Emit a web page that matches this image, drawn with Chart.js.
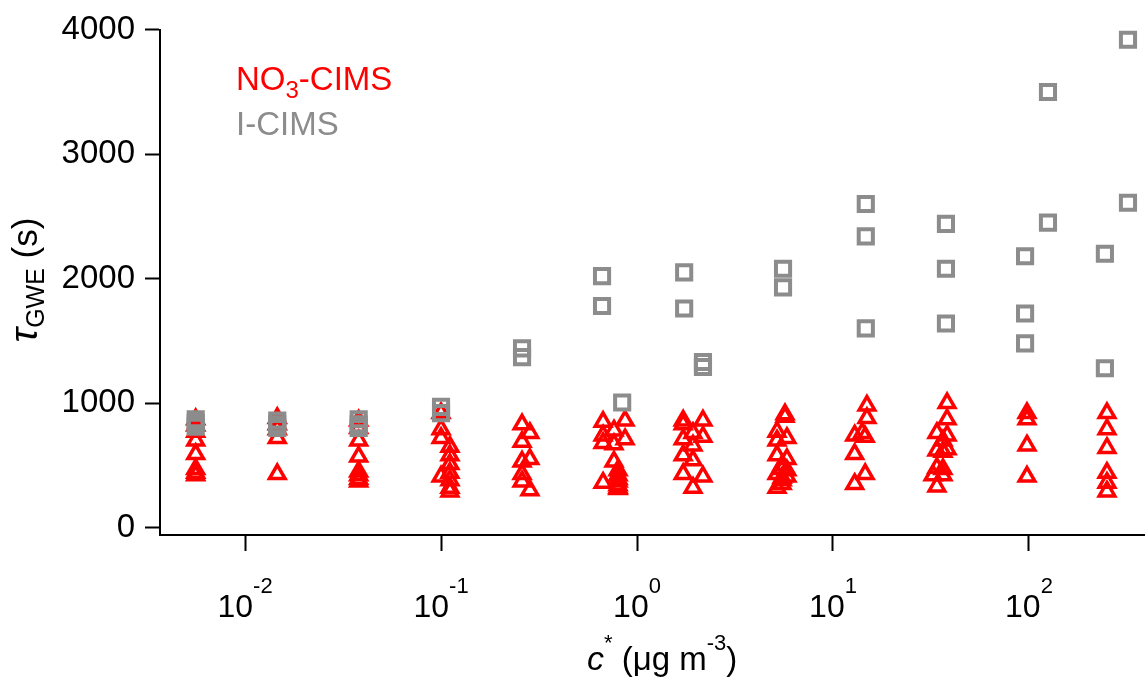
<!DOCTYPE html>
<html>
<head>
<meta charset="utf-8">
<script src="https://cdn.jsdelivr.net/npm/chart.js@4.4.1/dist/chart.umd.min.js"></script>
<style>
  html, body { margin: 0; padding: 0; background: #fff; }
  #wrap { width: 1145px; height: 679px; }
</style>
</head>
<body>
<div id="wrap"><canvas id="chart" width="1145" height="679"></canvas></div>
<script>
// NO3-CIMS (triangles): c* (µg m-3) and tau_GWE (s), one line per column of markers
var NO3_CSTAR = [
  0.0056, 0.0056, 0.0056, 0.0056, 0.0056, 0.0056, 0.0056, 0.0056,
  0.0146, 0.0146, 0.0146, 0.0146, 0.0146,
  0.038, 0.038, 0.038, 0.038, 0.038, 0.038, 0.038, 0.038,
  0.1, 0.1, 0.1, 0.1,
  0.111, 0.111, 0.111, 0.111, 0.111, 0.111, 0.111,
  0.259, 0.259, 0.259, 0.259, 0.259,
  0.284, 0.284, 0.284,
  0.671, 0.671, 0.671, 0.671,
  0.869, 0.869,
  0.763, 0.763, 0.763,
  0.80, 0.80, 0.80, 0.80, 0.80, 0.80, 0.80,
  1.72, 1.72, 1.72, 1.72, 1.72,
  2.17, 2.17, 2.17,
  1.93, 1.93, 1.93, 1.93,
  5.69, 5.69,
  5.18, 5.18, 5.18, 5.18, 5.18,
  5.82, 5.82, 5.82, 5.82,
  5.5, 5.5, 5.5, 5.5, 5.5,
  14.9, 14.9,
  12.9, 12.9, 12.9,
  14.1,
  14.6, 14.6,
  38.2, 38.2, 38.2, 38.2,
  33.9, 33.9, 33.9, 33.9,
  36.4, 36.4, 36.4, 36.4,
  32.4,
  97.7, 97.7, 97.7, 97.7,
  250, 250, 250, 250, 250, 250
];
var NO3_TAU = [
  870, 820, 770, 700, 590, 470, 440, 420,
  880, 830, 790, 720, 430,
  860, 800, 700, 570, 450, 420, 390, 370,
  920, 790, 720, 410,
  650, 580, 510, 440, 380, 320, 290,
  830, 690, 530, 430, 370,
  760, 550, 300,
  850, 740, 680, 360,
  860, 710,
  780, 670, 530,
  460, 420, 390, 370, 340, 320, 310,
  860, 830, 710, 580, 430,
  860, 730, 410,
  760, 660, 540, 320,
  910, 890,
  770, 700, 580, 430, 320,
  720, 550, 460, 410,
  500, 470, 400, 380, 350,
  980, 880,
  740, 590, 350,
  760,
  730, 430,
  1000, 870, 740, 630,
  760, 620, 480, 330,
  700, 610, 470, 420,
  420,
  920, 870, 660, 410,
  920, 790, 640, 440, 360, 290
];

// I-CIMS (squares)
var ICIMS_CSTAR = [
  0.0056, 0.0056, 0.0056,
  0.0146, 0.0146, 0.0146,
  0.038, 0.038, 0.038,
  0.1, 0.1,
  0.259, 0.259,
  0.663, 0.663, 0.84,
  1.74, 1.74, 2.17, 2.17,
  5.56, 5.56,
  14.7, 14.7, 14.7,
  37.7, 37.7, 37.7,
  95.5, 95.5, 95.5, 125, 125,
  244, 244, 320, 320
];
var ICIMS_TAU = [
  870, 840, 810,
  860, 830, 800,
  870, 830, 800,
  970, 920,
  1440, 1370,
  2020, 1780, 1005,
  2050, 1760, 1330, 1290,
  2080, 1930,
  2600, 2340, 1600,
  2440, 2080, 1640,
  2180, 1720, 1480, 3500, 2450,
  2200, 1280, 3920, 2610
];

var Y_TICKS = [0, 1000, 2000, 3000, 4000];
var X_TICK_EXP = [-2, -1, 0, 1, 2];

var RED = '#ff0000';
var GRAY = '#8c8c8c';
var FONT = '"Liberation Sans", Arial, Helvetica, sans-serif';

function toPoints(xs, ys) {
  return xs.map(function(x, i) { return { x: x, y: ys[i] }; });
}

// draws a list of text pieces side by side (for sub/superscripts)
function runsWidth(ctx, runs) {
  var w = 0;
  runs.forEach(function(r) {
    ctx.font = (r.italic ? 'italic ' : '') + r.size + 'px ' + FONT;
    w += ctx.measureText(r.text).width;
  });
  return w;
}
function drawRuns(ctx, runs, x, y, color) {
  ctx.fillStyle = color;
  ctx.textBaseline = 'alphabetic';
  ctx.textAlign = 'left';
  runs.forEach(function(r) {
    ctx.font = (r.italic ? 'italic ' : '') + r.size + 'px ' + FONT;
    ctx.fillText(r.text, x, y + (r.dy || 0));
    x += ctx.measureText(r.text).width;
  });
}

var textPlugin = {
  id: 'texts',
  afterDraw: function(chart) {
    var ctx = chart.ctx;
    var xs = chart.scales.x;
    ctx.save();

    // x tick labels 10^n
    X_TICK_EXP.forEach(function(e) {
      var px = xs.getPixelForValue(Math.pow(10, e));
      var runs = [
        { text: '10', size: 32 },
        { text: String(e), size: 22, dy: -24 },
      ];
      var w = runsWidth(ctx, runs);
      drawRuns(ctx, runs, px - w / 2, 617, '#000');
    });

    // x title
    drawRuns(ctx, [
      { text: 'c', size: 34, italic: true },
      { text: '*', size: 22, dy: -20 },
      { text: ' (μg m', size: 33 },
      { text: '-3', size: 22, dy: -20 },
      { text: ')', size: 33 },
    ], 587, 670, '#000');

    // y title, rotated
    var yRuns = [
      { text: 'τ', size: 39, italic: true },
      { text: 'GWE', size: 25, dy: 7 },
      { text: ' (s)', size: 35 },
    ];
    ctx.save();
    ctx.translate(37, 280);
    ctx.rotate(-Math.PI / 2);
    drawRuns(ctx, yRuns, -runsWidth(ctx, yRuns) / 2, 0, '#000');
    ctx.restore();

    // legend text
    drawRuns(ctx, [
      { text: 'NO', size: 33 },
      { text: '3', size: 24, dy: 8 },
      { text: '-CIMS', size: 33 },
    ], 236, 90, RED);
    drawRuns(ctx, [{ text: 'I-CIMS', size: 33 }], 236, 135, GRAY);

    ctx.restore();
  },
};

function initChart() {
  var ctx = document.getElementById('chart');
  new Chart(ctx, {
    type: 'scatter',
    data: {
      datasets: [
        {
          label: 'I-CIMS',
          data: toPoints(ICIMS_CSTAR, ICIMS_TAU),
          pointStyle: 'rect',
          pointRadius: 10,
          borderWidth: 4,
          borderColor: GRAY,
          backgroundColor: 'rgba(0,0,0,0)',
          clip: false,
        },
        {
          label: 'NO3-CIMS',
          data: toPoints(NO3_CSTAR, NO3_TAU),
          pointStyle: 'triangle',
          pointRadius: 9,
          borderWidth: 3.5,
          borderColor: RED,
          backgroundColor: 'rgba(0,0,0,0)',
          clip: false,
        },
      ],
    },
    options: {
      responsive: false,
      animation: false,
      events: [],
      layout: { autoPadding: false, padding: { top: 27, right: 0, left: 0, bottom: 0 } },
      scales: {
        x: {
          type: 'logarithmic',
          min: Math.pow(10, -2.434),
          max: Math.pow(10, 2.592),
          afterBuildTicks: function(scale) {
            scale.ticks = X_TICK_EXP.map(function(e) { return { value: Math.pow(10, e) }; });
          },
          afterFit: function(scale) { scale.height = 144; },
          border: { display: true, color: '#000', width: 2 },
          grid: { drawOnChartArea: false, drawTicks: true, tickLength: 16, tickColor: '#000', tickWidth: 2 },
          ticks: { display: false },
        },
        y: {
          type: 'linear',
          min: -60,
          max: 4000,
          afterBuildTicks: function(scale) {
            scale.ticks = Y_TICKS.map(function(v) { return { value: v }; });
          },
          afterFit: function(scale) { scale.width = 160; },
          border: { display: true, color: '#000', width: 2 },
          grid: { drawOnChartArea: false, drawTicks: true, tickLength: 15, tickColor: '#000', tickWidth: 2 },
          ticks: {
            color: '#000',
            padding: 10,
            font: { family: FONT, size: 33 },
            callback: function(v) { return String(v); },
          },
        },
      },
      plugins: {
        legend: { display: false },
        tooltip: { enabled: false },
      },
    },
    plugins: [textPlugin],
  });
}

initChart();
</script>
</body>
</html>
